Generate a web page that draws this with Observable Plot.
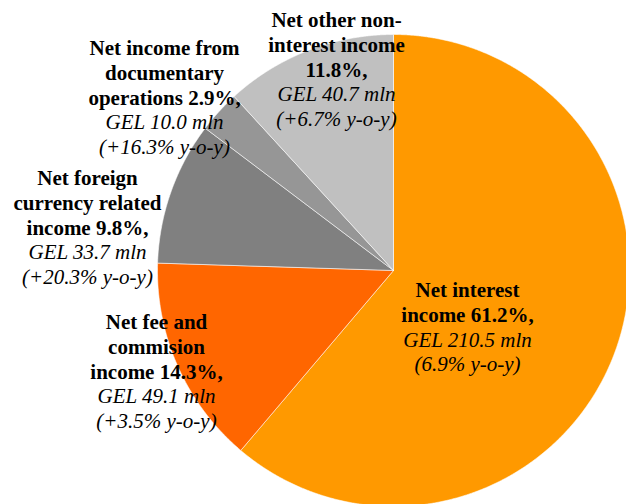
<!DOCTYPE html>
<html><head><meta charset="utf-8">
<script src="https://cdn.jsdelivr.net/npm/d3@7"></script>
<script src="https://cdn.jsdelivr.net/npm/@observablehq/plot@0.6"></script>
<style>html,body{margin:0;padding:0;background:#fff;overflow:hidden}</style>
</head><body><div id="chart"></div>
<script>
// ---- data ----
const categories = [
  "Net interest income",
  "Net fee and commision income",
  "Net foreign currency related income",
  "Net income from documentary operations",
  "Net other non-interest income"
];
const shares = [61.2, 14.3, 9.8, 2.9, 11.8];
const amounts = [210.5, 49.1, 33.7, 10.0, 40.7];
const growth = ["6.9%", "+3.5%", "+20.3%", "+16.3%", "+6.7%"];
const boldLines = [
  ["Net interest", "income 61.2%,"],
  ["Net fee and", "commision", "income 14.3%,"],
  ["Net foreign", "currency related", "income 9.8%,"],
  ["Net income from", "documentary", "operations 2.9%,"],
  ["Net other non-", "interest income", "11.8%,"]
];
const colors = ["#FF9900", "#FF6600", "#808080", "#969696", "#C0C0C0"];

// ---- layout ----
const W = 626, H = 504;
const cx = 393, cy = 270, R = 236;
const labelPos = [[467, 290], [156, 322], [87, 178], [164, 48], [336, 20]];
const lineGap = 24.7;
const font = "'Liberation Serif', 'Times New Roman', serif";
const fontSize = 21;

// slice outlines computed from the pie layout
const arcs = d3.pie().sort(null).value(d => d)(shares);
const pts = [];
arcs.forEach((a, i) => {
  const name = categories[i];
  pts.push({name, x: cx, y: cy});
  const n = Math.max(2, Math.ceil((a.endAngle - a.startAngle) / 0.005));
  for (let k = 0; k <= n; k++) {
    const t = a.startAngle + (a.endAngle - a.startAngle) * k / n;
    pts.push({name, x: cx + R * Math.sin(t), y: cy - R * Math.cos(t)});
  }
  pts.push({name, x: cx, y: cy});
});

// label rows
const rows = [];
categories.forEach((c, i) => {
  const lines = boldLines[i].map(t => ({t, italic: false}))
    .concat([{t: `GEL ${amounts[i].toFixed(1)} mln`, italic: true},
             {t: `(${growth[i]} y-o-y)`, italic: true}]);
  lines.forEach((l, j) => rows.push({
    x: labelPos[i][0], y: labelPos[i][1] + j * lineGap, text: l.t, italic: l.italic
  }));
});

const chart = Plot.plot({
  width: W, height: H,
  margin: 0,
  style: {background: "white", overflow: "hidden", fontFamily: font},
  x: {domain: [0, W], range: [0, W], axis: null},
  y: {domain: [0, H], range: [0, H], axis: null},
  color: {domain: categories, range: colors},
  marks: [
    Plot.line(pts, {x: "x", y: "y", z: "name", fill: "name", stroke: "white", strokeWidth: 0.8, strokeOpacity: 0.7, curve: "linear"}),
    Plot.text(rows.filter(d => !d.italic), {x: "x", y: "y", text: "text", fontWeight: "bold", fontSize, fontFamily: font, textAnchor: "middle", lineAnchor: "middle", fill: "black"}),
    Plot.text(rows.filter(d => d.italic), {x: "x", y: "y", text: "text", fontStyle: "italic", fontSize, fontFamily: font, textAnchor: "middle", lineAnchor: "middle", fill: "black"})
  ]
});
document.getElementById("chart").appendChild(chart);
</script>
</body></html>
